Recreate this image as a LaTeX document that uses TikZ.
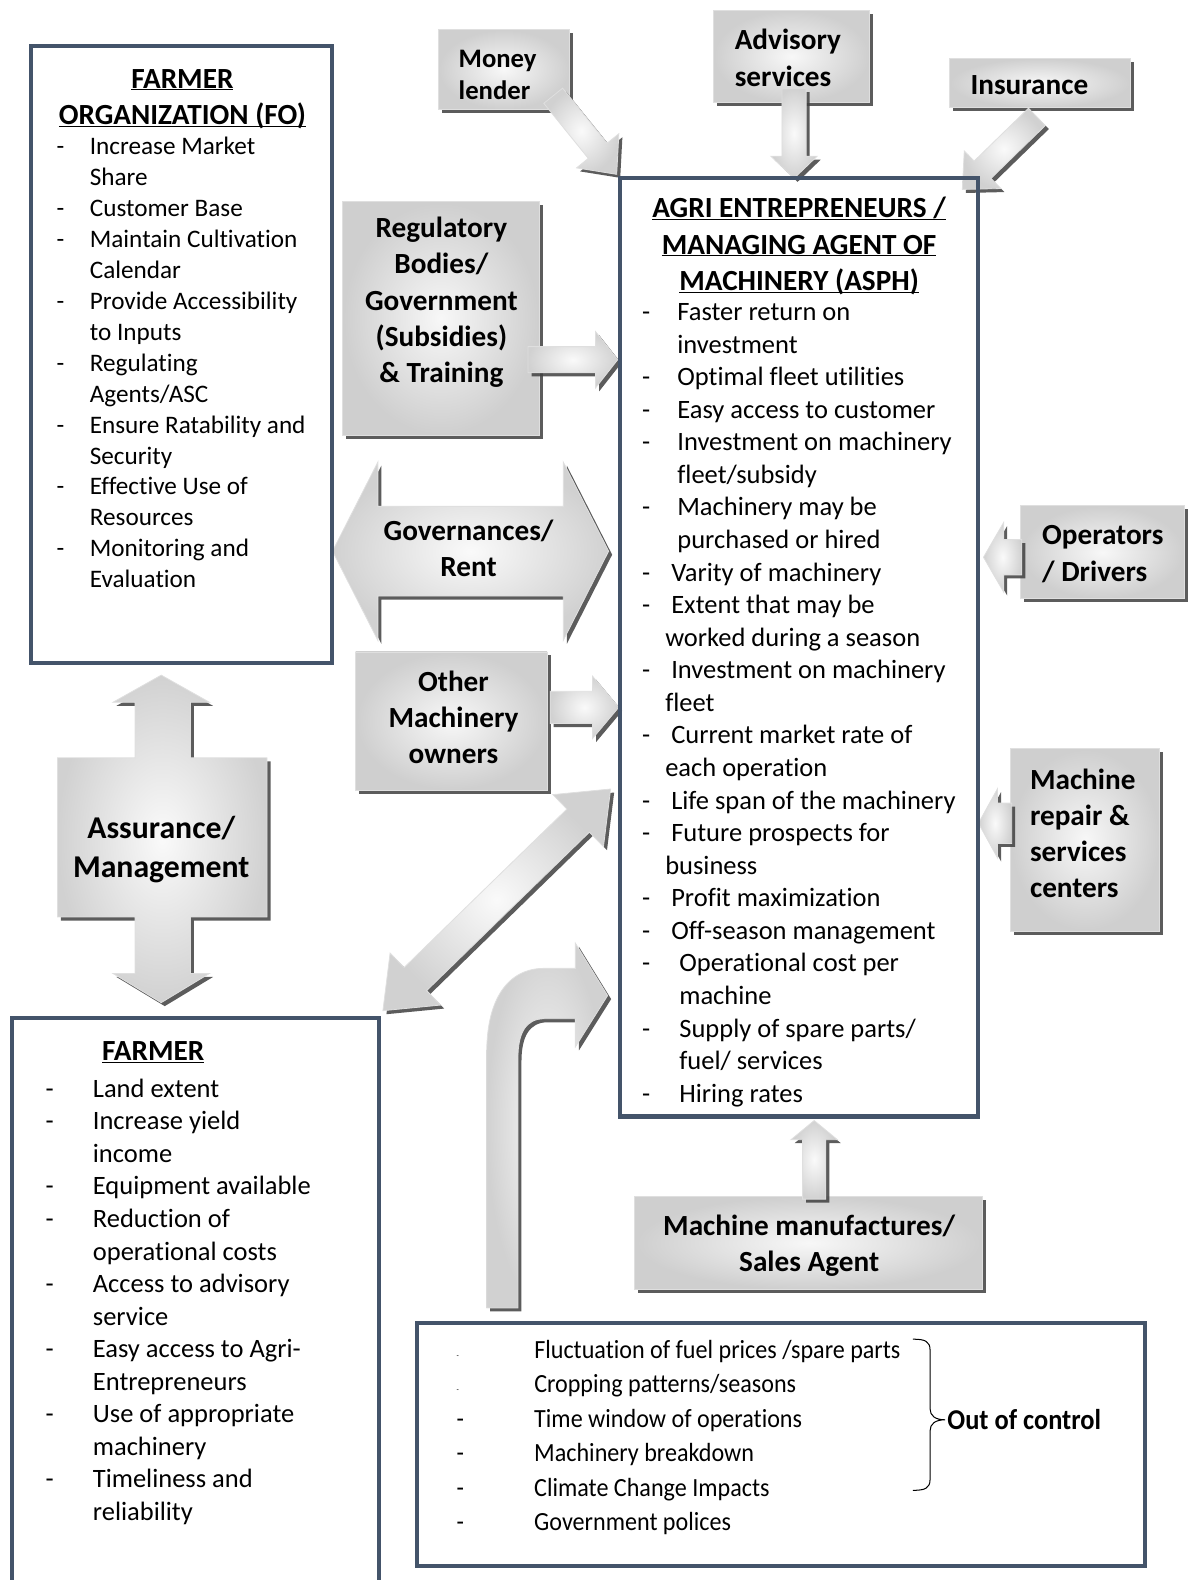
\documentclass[tikz,border=0pt]{standalone}
\usepackage{fontspec}
\setmainfont{Carlito}[Ligatures=NoCommon]
\newfontfamily\narrowfont{Carlito}[FakeStretch=0.92, Ligatures=NoCommon]
\usetikzlibrary{calc,shadows}
\definecolor{slate}{HTML}{44546A}
\newcommand{\titleline}[1]{\underline{\raisebox{0pt}[\height][0pt]{#1}}}

\tikzset{
  frame/.style={draw=slate, line width=4pt, inner sep=0pt},
  boxshadow/.style={drop shadow={shadow xshift=3.5pt, shadow yshift=-3.5pt, fill=black!75, opacity=0.85}},
  graybox/.style={draw=gray!25, line width=0.8pt, inner color=gray!6, outer color=gray!38, inner sep=0pt, boxshadow},
  blockarrow/.style={draw=gray!25, line width=0.8pt, inner color=gray!4, outer color=gray!36, boxshadow},
  boxtext/.style={font=\fontsize{29}{36}\selectfont\bfseries, align=center, inner sep=0pt},
  listtext/.style={anchor=base west, inner sep=0pt},
}

% block arrow from #1 to #2: half shaft #3, half head #4, head length #5
\newcommand{\blkarrow}[5]{%
  \coordinate (ba-h) at ($(#2)!#5!(#1)$);
  \draw[blockarrow] ($(#1)!#3!90:(#2)$) -- ($(ba-h)!#3!90:(#2)$)
    -- ($(ba-h)!#4!90:(#2)$) -- (#2) -- ($(ba-h)!#4!-90:(#2)$)
    -- ($(ba-h)!#3!-90:(#2)$) -- ($(#1)!#3!-90:(#2)$) -- cycle;
}
% double block arrow between #1 and #2
\newcommand{\dblarrow}[5]{%
  \coordinate (da-h1) at ($(#1)!#5!(#2)$);
  \coordinate (da-h2) at ($(#2)!#5!(#1)$);
  \draw[blockarrow] (#1) -- ($(da-h1)!#4!90:(#2)$) -- ($(da-h1)!#3!90:(#2)$)
    -- ($(da-h2)!#3!90:(#2)$) -- ($(da-h2)!#4!90:(#2)$) -- (#2)
    -- ($(da-h2)!#4!-90:(#2)$) -- ($(da-h2)!#3!-90:(#2)$)
    -- ($(da-h1)!#3!-90:(#2)$) -- ($(da-h1)!#4!-90:(#2)$) -- cycle;
}

\begin{document}
\begin{tikzpicture}[x=1pt,y=-1pt]
\useasboundingbox (0,0) rectangle (1183,1568);

\node[graybox, minimum width=130pt, minimum height=79pt] (money) at (500,69) {};
\node[graybox, minimum width=155pt, minimum height=92pt] (advis) at (785.5,56) {};
\node[graybox, minimum width=180pt, minimum height=49pt] (insur) at (1032,82.5) {};
\node[graybox, minimum width=195pt, minimum height=232pt] (reg) at (437.5,316) {};
\node[graybox, minimum width=190pt, minimum height=137pt] (other) at (448,715.5) {};
\node[graybox, minimum width=162pt, minimum height=92pt] (oper) at (1094,548) {};
\node[graybox, minimum width=148pt, minimum height=181pt] (repair) at (1077,833.5) {};
\node[graybox, minimum width=345pt, minimum height=93pt] (manuf) at (802.5,1233.5) {};

\coordinate (money-a) at (549,95);
\coordinate (money-b) at (612,173);
\coordinate (advis-a) at (788,88);
\coordinate (advis-b) at (788,177);
\coordinate (insur-a) at (1029,116);
\coordinate (insur-b) at (955,188);
\coordinate (reg-a) at (524,357);
\coordinate (reg-b) at (613,357);
\coordinate (other-a) at (546,702);
\coordinate (other-b) at (614,702);
\coordinate (oper-a) at (1014,553);
\coordinate (oper-b) at (976,553);
\coordinate (repair-a) at (1004,817);
\coordinate (repair-b) at (971,817);
\coordinate (manuf-a) at (808,1190);
\coordinate (manuf-b) at (808,1112);
\coordinate (diag-a) at (380,1003);
\coordinate (diag-b) at (606,783);
\coordinate (gov-a) at (330,547);
\coordinate (gov-b) at (604,547);

\blkarrow{money-a}{money-b}{12pt}{27pt}{30pt}
\blkarrow{advis-a}{advis-b}{12pt}{23pt}{22pt}
\blkarrow{insur-a}{insur-b}{12pt}{26pt}{28pt}
\blkarrow{reg-a}{reg-b}{13pt}{28pt}{22pt}
\blkarrow{other-a}{other-b}{16pt}{31pt}{26pt}
\blkarrow{oper-a}{oper-b}{17.5pt}{34.5pt}{20pt}
\blkarrow{repair-a}{repair-b}{20pt}{34.5pt}{19pt}
\blkarrow{manuf-a}{manuf-b}{11.5pt}{23pt}{19pt}
\dblarrow{diag-a}{diag-b}{16pt}{36pt}{45pt}
\dblarrow{gov-a}{gov-b}{44.5pt}{88.5pt}{45pt}

\draw[blockarrow] (160,670) -- (208,697) -- (189,697) -- (189,752) -- (265,752)
  -- (265,910) -- (189,910) -- (189,966) -- (208,966) -- (160,995) -- (112,966)
  -- (134,966) -- (134,910) -- (57,910) -- (57,752) -- (134,752) -- (134,697)
  -- (112,697) -- cycle;
\draw[blockarrow] (483,1298) -- (483,1045) .. controls (483,990) and (505,961) .. (540,961)
  -- (571,961) -- (571,936) -- (603,988) -- (571,1039) -- (571,1011) -- (540,1011)
  .. controls (522,1011) and (514,1025) .. (514,1050) -- (514,1298) -- cycle;

\node[boxtext, align=left, font=\fontsize{26.5}{32}\selectfont\bfseries, anchor=west] (money-t) at (455,74) {Money\\lender};
\node[boxtext, align=left, anchor=west] (advis-t) at (729,57.5) {Advisory\\services};
\node[boxtext, anchor=west] (insur-t) at (963,84) {Insurance};
\node[boxtext] (reg-t) at (438,300) {Regulatory\\Bodies/\\Government\\(Subsidies)\\\& Training};
\node[boxtext] (gov-t) at (465,544) {Governances/\\Rent};
\node[boxtext] (other-t) at (450,712) {Other\\Machinery\\owners};
\node[boxtext, align=left, anchor=west] (oper-t) at (1034,550) {Operators\\/ Drivers};
\node[boxtext, align=left, anchor=west] (repair-t) at (1022,827) {Machine\\repair \&\\services\\centers};
\node[boxtext] (manuf-t) at (803,1236) {Machine manufactures/\\Sales Agent};
\node[boxtext, font=\fontsize{31.5}{38}\selectfont\bfseries] (assure-t) at (160,843) {Assurance/\\Management};

\node[boxtext] (fo-t) at (181,97) {\titleline{FARMER}\\\titleline{ORGANIZATION (FO)}};
\node[listtext, font=\fontsize{25}{30.7}\selectfont] (fo-list) at (56,153.5) {%
\begin{tabular}[t]{@{}p{33pt}@{}l@{}}
- & Increase Market\\
  & Share\\
- & Customer Base\\
- & Maintain Cultivation\\
  & Calendar\\
- & Provide Accessibility\\
  & to Inputs\\
- & Regulating\\
  & Agents/ASC\\
- & Ensure Ratability and\\
  & Security\\
- & Effective Use of\\
  & Resources\\
- & Monitoring and\\
  & Evaluation
\end{tabular}};

\node[boxtext] (agri-t) at (793,243) {\titleline{AGRI ENTREPRENEURS /}\\\titleline{MANAGING AGENT OF}\\\titleline{MACHINERY (ASPH)}};
\node[listtext, font=\fontsize{26.3}{32.33}\selectfont] (agri-list) at (637,318) {%
\begin{tabular}[t]{@{}p{23pt}@{}l@{}}
- & \hspace*{12pt}Faster return on\\
  & \hspace*{12pt}investment\\
- & \hspace*{12pt}Optimal fleet utilities\\
- & \hspace*{12pt}Easy access to customer\\
- & \hspace*{12pt}Investment on machinery\\
  & \hspace*{12pt}fleet/subsidy\\
- & \hspace*{12pt}Machinery may be\\
  & \hspace*{12pt}purchased or hired\\
- & \hspace*{6pt}Varity of machinery\\
- & \hspace*{6pt}Extent that may be\\
  & worked during a season\\
- & \hspace*{6pt}Investment on machinery\\
  & fleet\\
- & \hspace*{6pt}Current market rate of\\
  & each operation\\
- & \hspace*{6pt}Life span of the machinery\\
- & \hspace*{6pt}Future prospects for\\
  & business\\
- & \hspace*{6pt}Profit maximization\\
- & \hspace*{6pt}Off-season management\\
- & \hspace*{14pt}Operational cost per\\
  & \hspace*{14pt}machine\\
- & \hspace*{14pt}Supply of spare parts/\\
  & \hspace*{14pt}fuel/ services\\
- & \hspace*{14pt}Hiring rates
\end{tabular}};

\node[boxtext] (farmer-t) at (152,1044) {\titleline{FARMER}};
\node[listtext, font=\fontsize{26.3}{32.3}\selectfont] (farmer-list) at (45,1089) {%
\begin{tabular}[t]{@{}p{47pt}@{}l@{}}
- & Land extent\\
- & Increase yield\\
  & income\\
- & Equipment available\\
- & Reduction of\\
  & operational costs\\
- & Access to advisory\\
  & service\\
- & Easy access to Agri-\\
  & Entrepreneurs\\
- & Use of appropriate\\
  & machinery\\
- & Timeliness and\\
  & reliability
\end{tabular}};

\node[listtext, font=\narrowfont\fontsize{26}{34.2}\selectfont] (out-list) at (453,1348) {%
\begin{tabular}[t]{@{}p{77pt}@{}l@{}}
{\fontsize{8}{8}\selectfont -} & Fluctuation of fuel prices /spare parts\\
{\fontsize{8}{8}\selectfont -} & Cropping patterns/seasons\\
- & Time window of operations\\
- & Machinery breakdown\\
- & Climate Change Impacts\\
- & Government polices
\end{tabular}};
\coordinate (brace-top) at (906,1329);
\coordinate (brace-tip) at (938,1409);
\coordinate (brace-bot) at (906,1479);
\draw[line width=1pt] (brace-top) .. controls (918,1329) and (923,1331) .. (923,1340)
  -- (923,1398) .. controls (923,1405) and (928,1409) .. (brace-tip)
  .. controls (928,1409) and (923,1413) .. (923,1420) -- (923,1468)
  .. controls (923,1477) and (918,1479) .. (brace-bot);
\node[boxtext, font=\narrowfont\fontsize{28.5}{34}\selectfont\bfseries, anchor=west] (out-t) at (940,1409) {Out of control};

\node[frame, minimum width=298pt, minimum height=612pt] (fo) at (180,352) {};
\node[frame, minimum width=356pt, minimum height=931pt] (agri) at (793,642.5) {};
\node[frame, minimum width=364pt, minimum height=580pt] (farmer) at (194,1300) {};
\node[frame, minimum width=722pt, minimum height=241pt] (out) at (775,1433.5) {};
\end{tikzpicture}
\end{document}
